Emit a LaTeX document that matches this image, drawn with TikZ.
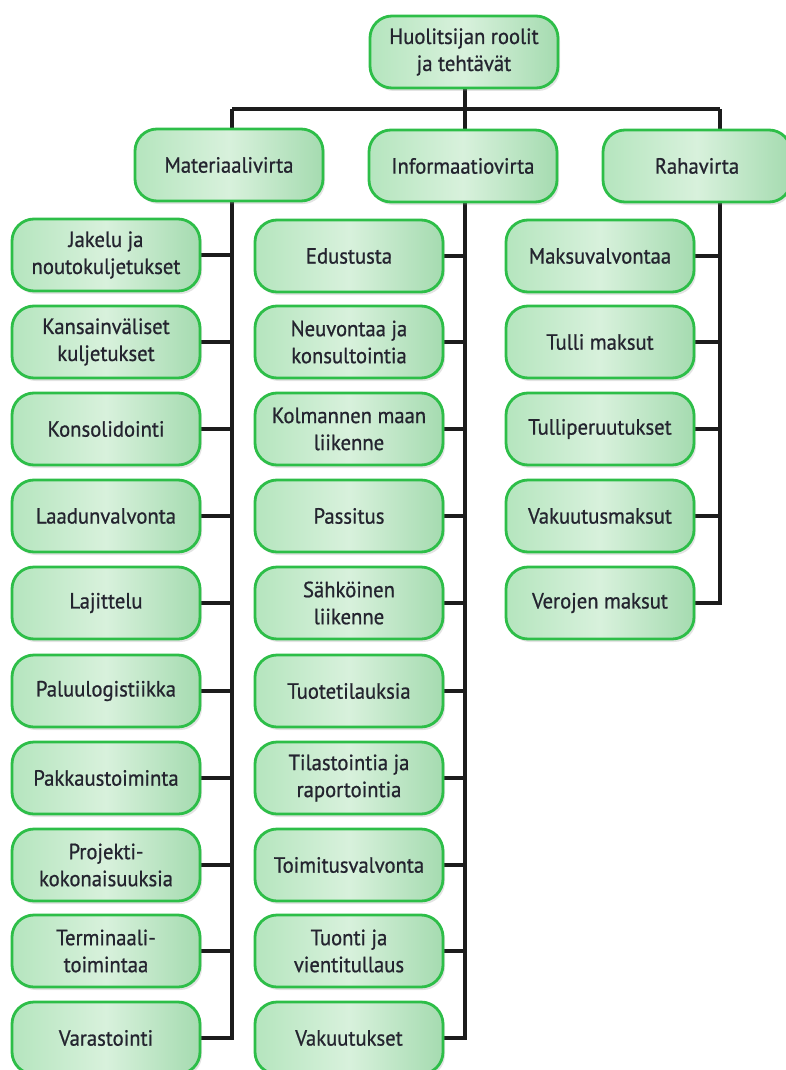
\documentclass[tikz,border=0pt]{standalone}
\usepackage{fontspec}
\setmainfont[FakeBold=0.8,FakeStretch=0.94]{PT Sans}
\usetikzlibrary{shadows,backgrounds}
\definecolor{boxline}{HTML}{2DBE48}
\definecolor{gl}{HTML}{B5E5BE}
\definecolor{gm}{HTML}{D8F1DC}
\definecolor{gr}{HTML}{A5DBB0}
\definecolor{txt}{HTML}{24242F}
\definecolor{wirec}{HTML}{1C1C1C}
\begin{document}
\begin{tikzpicture}[x=1pt,y=-1pt,
  card/.style={draw=boxline, line width=2.8pt, rounded corners=22pt,
    left color=gl, right color=gr, middle color=gm,
    minimum width=188pt, minimum height=72pt, inner sep=0pt, align=center,
    text=txt, font=\fontsize{22}{27}\selectfont,
    drop shadow={shadow xshift=2pt, shadow yshift=-3pt, opacity=0.22}},
  wire/.style={draw=wirec, line width=3.2pt, line join=miter}]
\useasboundingbox (0,0) rectangle (785,1070);

\node[card] (root) at (464,52) {Huolitsijan roolit\\ja tehtävät};
\node[card] (mh) at (229,165) {Materiaalivirta};
\node[card] (ih) at (463,166) {Informaatiovirta};
\node[card] (rh) at (697,166) {Rahavirta};

% left column
\node[card] (m1) at (106,255) {Jakelu ja\\noutokuljetukset};
\node[card] (m2) at (106,342) {Kansainväliset\\kuljetukset};
\node[card] (m3) at (106,429) {Konsolidointi};
\node[card] (m4) at (106,516) {Laadunvalvonta};
\node[card] (m5) at (106,603) {Lajittelu};
\node[card] (m6) at (106,691) {Paluulogistiikka};
\node[card] (m7) at (106,778) {Pakkaustoiminta};
\node[card] (m8) at (106,865) {Projekti-\\kokonaisuuksia};
\node[card] (m9) at (106,951) {Terminaali-\\toimintaa};
\node[card] (m10) at (106,1038) {Varastointi};

% middle column
\node[card] (i1) at (349,256) {Edustusta};
\node[card] (i2) at (349,342) {Neuvontaa ja\\konsultointia};
\node[card] (i3) at (349,429) {Kolmannen maan\\liikenne};
\node[card] (i4) at (349,516) {Passitus};
\node[card] (i5) at (349,603) {Sähköinen\\liikenne};
\node[card] (i6) at (349,691) {Tuotetilauksia};
\node[card] (i7) at (349,778) {Tilastointia ja\\raportointia};
\node[card] (i8) at (349,865) {Toimitusvalvonta};
\node[card] (i9) at (349,951) {Tuonti ja\\vientitullaus};
\node[card] (i10) at (349,1038) {Vakuutukset};

% right column
\node[card] (r1) at (600,256) {Maksuvalvontaa};
\node[card] (r2) at (600,342) {Tulli maksut};
\node[card] (r3) at (600,429) {Tulliperuutukset};
\node[card] (r4) at (600,516) {Vakuutusmaksut};
\node[card] (r5) at (600,603) {Verojen maksut};

\coordinate (ms) at (232,109);
\coordinate (is) at (465,109);
\coordinate (rs) at (720,109);

\begin{scope}[on background layer]
  \draw[wire] (root.south -| is) -- (is);
  \draw[wire] (ms) -- (rs);
  \draw[wire] (ms) -- (ms |- m10.east) -- (m10.east);
  \draw[wire] (is) -- (is |- i10.east) -- (i10.east);
  \draw[wire] (rs) -- (rs |- r5.east) -- (r5.east);
  \foreach \n in {1,...,9} {
    \draw[wire] (m\n.east) -- (m\n.east -| ms);
    \draw[wire] (i\n.east) -- (i\n.east -| is);
  }
  \foreach \n in {1,...,4} {
    \draw[wire] (r\n.east) -- (r\n.east -| rs);
  }
\end{scope}
\end{tikzpicture}
\end{document}
